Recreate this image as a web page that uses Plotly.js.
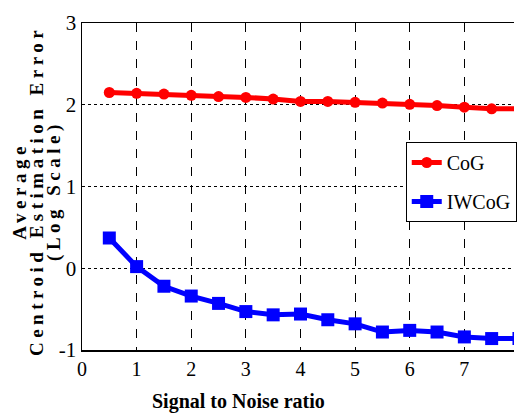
<!DOCTYPE html>
<html>
<head>
<meta charset="utf-8">
<script src="https://cdn.plot.ly/plotly-3.0.1.min.js"></script>
<style>
html,body{margin:0;padding:0;background:#fff;}
#chart{width:517px;height:414px;}
</style>
</head>
<body>
<div id="chart"></div>
<script>
const snr = [0.5, 1, 1.5, 2, 2.5, 3, 3.5, 4, 4.5, 5, 5.5, 6, 6.5, 7, 7.5, 8];
const cog = [2.15, 2.14, 2.13, 2.115, 2.10, 2.09, 2.07, 2.04, 2.04, 2.03, 2.02, 2.005, 1.99, 1.97, 1.95, 1.95];
const iwcog = [0.37, 0.02, -0.22, -0.34, -0.43, -0.53, -0.57, -0.56, -0.63, -0.68, -0.78, -0.76, -0.78, -0.84, -0.86, -0.86];
const xTicks = [0, 1, 2, 3, 4, 5, 6, 7];
const yTicks = [-1, 0, 1, 2, 3];
const seriesNames = ['CoG', 'IWCoG'];
const yTitleLines = ['Average', 'Centroid Estimation Error', '(Log Scale)'];
const xTitle = 'Signal to Noise ratio';

const serif = 'Liberation Serif';

const traces = [
  {x: snr, y: cog, name: seriesNames[0], mode: 'lines+markers', legendgroup: 'a',
   line: {color: '#ff0000', width: 5}, marker: {symbol: 'circle', size: 11, color: '#ff0000'}},
  {x: snr, y: iwcog, name: seriesNames[1], mode: 'lines+markers', legendgroup: 'b',
   line: {color: '#0000ff', width: 5}, marker: {symbol: 'square', size: 13, color: '#0000ff'}}
];

const ylabX = [18.5, 35.5, 54];
const annotations = yTitleLines.map((t, i) => ({
  text: t, xref: 'paper', yref: 'paper',
  x: (ylabX[i] - 82) / 435, y: (350 - 191) / 327,
  xanchor: 'center', yanchor: 'middle', textangle: -90, showarrow: false,
  font: {family: serif, size: 19, color: '#000', weight: 'bold'}
}));
annotations.push({
  text: xTitle, xref: 'paper', yref: 'paper',
  x: (240 - 82) / 435, y: (350 - 401) / 327,
  xanchor: 'center', yanchor: 'middle', showarrow: false,
  font: {family: serif, size: 20, color: '#000', weight: 'bold'}
});

const layout = {
  width: 517, height: 414,
  margin: {l: 82, r: 0, t: 23, b: 64},
  paper_bgcolor: '#fff', plot_bgcolor: '#fff',
  font: {family: serif, color: '#000'},
  showlegend: true,
  legend: {x: (408 - 82) / 435, y: (350 - 142) / 327, xanchor: 'left', yanchor: 'top',
    bgcolor: '#fff', bordercolor: '#000', borderwidth: 1, tracegroupgap: 10,
    font: {family: serif, size: 20, color: '#000'}},
  xaxis: {range: [0, 7.909], tickvals: xTicks, ticktext: xTicks.map(String),
    showgrid: true, gridcolor: '#000', gridwidth: 1, griddash: 'dash',
    showline: true, linecolor: '#000', linewidth: 1.5, mirror: true, zeroline: false,
    ticks: '', tickfont: {family: serif, size: 20, color: '#000'}},
  yaxis: {range: [-1, 3], tickvals: yTicks, ticktext: yTicks.map(String),
    showgrid: true, gridcolor: '#000', gridwidth: 1, griddash: 'dot',
    showline: true, linecolor: '#000', linewidth: 1.5, zeroline: false,
    ticks: '', tickfont: {family: serif, size: 21, color: '#000'}},
  annotations: annotations
};

const config = {displayModeBar: false, staticPlot: true};
function spacing() {
  document.querySelectorAll('#chart .annotation-text').forEach((el, i) => {
    if (i < 3) el.setAttribute('letter-spacing', '4.5');
  });
}
function draw() {
  return Plotly.newPlot('chart', traces, layout, config).then(spacing);
}
draw();
// redraw once the font faces are ready, so text does not stay on a fallback face
if (document.fonts && document.fonts.load) {
  Promise.all([
    document.fonts.load("20px 'Liberation Serif'"),
    document.fonts.load("bold 20px 'Liberation Serif'")
  ]).then(() => document.fonts.ready).then(() => draw());
}
requestAnimationFrame(() => draw());
setTimeout(draw, 60);
</script>
</body>
</html>
